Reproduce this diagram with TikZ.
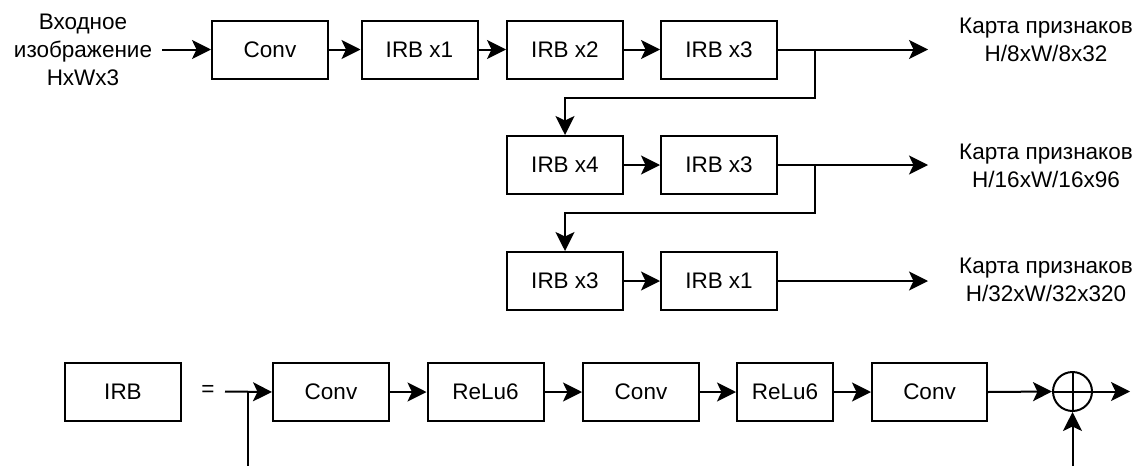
\documentclass[tikz,border=0pt]{standalone}
\usepackage{fontspec}
\setmainfont{Liberation Sans}
\usetikzlibrary{arrows.meta}
\begin{document}
\begin{tikzpicture}[x=1pt,y=-1pt,
  >={Stealth[length=19pt,width=19pt,inset=4.5pt]},
  every node/.style={font=\fontsize{22.5}{28}\selectfont},
  blk/.style={draw, line width=2pt, minimum width=116pt, minimum height=58pt, inner sep=0pt},
  txt/.style={align=center, inner sep=0pt},
  ln/.style={line width=2pt},
  arr/.style={line width=2pt, ->},
  sum/.style={circle, draw, line width=2pt, minimum size=39pt, inner sep=0pt,
    path picture={
      \draw[line width=2pt] (path picture bounding box.north) -- (path picture bounding box.south);
      \draw[line width=2pt] (path picture bounding box.west) -- (path picture bounding box.east);
    }}
]
\useasboundingbox (0,0) rectangle (1142,466);

% backbone, first stage
\node[txt] (src) at (83,50) {Входное\\изображение\\HxWx3};
\coordinate (srcout) at (162,49.5);
\node[blk] (conv) at (270,49.5) {Conv};
\node[blk] (r1a) at (419.5,49.5) {IRB x1};
\node[blk] (r1b) at (565,49.5) {IRB x2};
\node[blk] (r1c) at (719,49.5) {IRB x3};

% second stage
\node[blk] (r2a) at (565,165) {IRB x4};
\node[blk] (r2b) at (719,165) {IRB x3};

% third stage
\node[blk] (r3a) at (565,281) {IRB x3};
\node[blk] (r3b) at (719,281) {IRB x1};

% feature map outputs
\coordinate (o1) at (928,49.5);
\coordinate (o2) at (928,165);
\coordinate (o3) at (928,281);
\coordinate (j1) at (815,49.5);
\coordinate (j2) at (815,165);
\node[txt] (f1) at (1046,40) {Карта признаков\\H/8xW/8x32};
\node[txt] (f2) at (1046,166) {Карта признаков\\H/16xW/16x96};
\node[txt] (f3) at (1046,280) {Карта признаков\\H/32xW/32x320};

\draw[arr] (srcout) -- (conv.west);
\draw[arr] (conv.east) -- (r1a.west);
\draw[arr] (r1a.east) -- (r1b.west);
\draw[arr] (r1b.east) -- (r1c.west);
\draw[arr] (r1c.east) -- (o1);
\draw[arr] (j1) -- ++(0,48.5) -| (r2a.north);
\draw[arr] (r2a.east) -- (r2b.west);
\draw[arr] (r2b.east) -- (o2);
\draw[arr] (j2) -- ++(0,48) -| (r3a.north);
\draw[arr] (r3a.east) -- (r3b.west);
\draw[arr] (r3b.east) -- (o3);

% inverted residual block
\node[blk] (irb) at (123,392) {IRB};
\node[inner sep=0pt] (eq) at (208,391) {=};
\coordinate (in) at (225,391.5);
\coordinate (tap) at (248,391.5);
\coordinate (tapend) at (248,466);
\node[blk] (b1) at (331,392) {Conv};
\node[blk] (b2) at (485.5,392) {ReLu6};
\node[blk] (b3) at (641,392) {Conv};
\node[blk, minimum width=96pt] (b4) at (785,392) {ReLu6};
\node[blk, minimum width=115pt] (b5) at (929.5,392) {Conv};
\node[sum] (add) at (1072.5,391.5) {};
\coordinate (out) at (1130,391.5);
\coordinate (skip) at (1072.5,466);

\draw[arr] (in) -- (b1.west);
\draw[ln] (tap) -- (tapend);
\draw[arr] (b1.east) -- (b2.west);
\draw[arr] (b2.east) -- (b3.west);
\draw[arr] (b3.east) -- (b4.west);
\draw[arr] (b4.east) -- (b5.west);
\draw[arr] (b5.east) -- (add.west);
\draw[arr] (add.east) -- (out);
\draw[arr] (skip) -- (add.south);
\end{tikzpicture}
\end{document}
